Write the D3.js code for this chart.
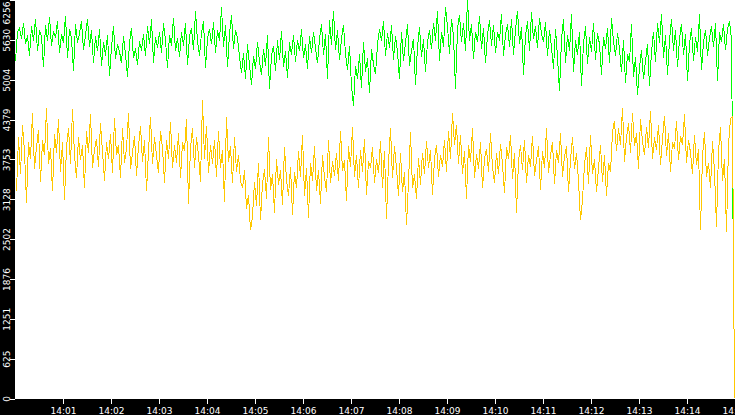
<!DOCTYPE html>
<html><head><meta charset="utf-8">
<script src="https://cdn.jsdelivr.net/npm/d3@7"></script>
<style>
html,body{margin:0;padding:0;background:#fff;overflow:hidden}
svg{display:block}
text{font-family:"DejaVu Sans",sans-serif;font-size:9px;fill:#fff}
</style>
</head><body>
<svg id="chart" width="735" height="415"></svg>
<script>
// ---- data ----
const startTime = "2024-01-01T14:00:00";
const sampleSeconds = 2.5;
const seriesNames = ["green", "yellow"];
const seriesColors = ["#00ff00", "#ffc800"];
const seriesOffsetSeconds = [0, 1.25];

const greenValues = [
5300,5750,5820,5640,5900,5560,5700,5380,5840,5620,5960,5450,5780,5690,5200,5870,5610,5990,5540,5760,
5660,5920,5430,5720,5580,6010,5340,5800,5650,5140,5880,5590,5730,5920,5470,5700,5960,5520,5780,5260,
5690,5450,5800,5220,5600,5380,5710,5060,5520,5840,5330,5560,5450,5260,5690,5410,5050,5580,5820,5340,
5500,5230,5610,5460,5720,5380,5840,5560,5950,5270,5680,5500,5760,5420,5890,5620,5190,5700,5540,5980,
5450,5660,5360,5750,5540,5900,5230,5680,5820,5470,6080,5600,5380,5740,5920,5190,5650,5800,5560,5910,
5430,5780,5620,6140,5520,5860,5200,5720,6020,5480,5790,5650,5370,5110,5420,5020,5560,5240,4920,5380,
5170,5600,5290,5080,5490,5220,5700,4860,5380,5540,5140,5620,5310,5770,5200,5460,5030,5590,5400,5710,
5280,5630,5450,5800,5340,5560,5180,5690,5420,5750,5510,5260,5640,5880,5390,5720,5020,5940,5550,6080,
5470,5780,5310,5650,5860,5420,5160,5540,4900,4600,5220,5010,5400,4880,5600,5130,5340,4790,5480,5250,
5090,5560,5800,5620,5920,5380,5740,5500,5860,5320,5690,5440,5010,5760,5300,5580,5880,5220,5460,5650,
4920,5520,5830,5360,5640,5130,5590,5780,5480,5900,5620,6080,5300,5760,5520,6150,5840,5410,5960,5680,
4860,5800,6020,5590,5900,5450,6256,5620,5880,5330,5760,5590,6010,5480,5820,5260,5700,5940,5540,5870,
5420,5760,5620,6040,5380,5710,5880,5520,5960,5400,5780,6090,5560,5830,5080,5700,5920,5460,6060,5640,
5850,5500,5980,5720,5600,5910,5380,5790,5510,5180,5800,5360,4820,5640,5950,5270,5700,5450,6030,5120,
5620,5390,5760,4900,5580,5840,5250,5670,5440,5900,5320,5740,5560,5080,5680,5480,5820,5260,5970,5600,
5380,5740,5490,5120,5630,4960,5410,5280,5880,5050,5360,4760,5190,5470,5010,5300,5560,4900,5440,5760,
5280,5900,5580,6040,5350,5700,5080,5620,5960,5460,5780,5200,5650,5880,5390,5720,4980,5560,5820,5300,
5680,5440,6030,5150,5600,5790,5380,5660,5840,5520,5900,4980,5750,5600,5880,5470,5800,5930,5640,1907
];

const yellowValues = [
3250,4100,3520,4300,3880,3070,4020,3760,4480,3600,3950,4210,3400,4050,3820,4560,3680,3930,3250,4150,
3860,4380,3560,4020,3120,3940,4250,3680,4540,3820,3460,4100,3740,3980,3300,4200,3850,4460,3620,3900,
4080,3640,4320,3880,3420,4020,3760,4150,3540,4400,3820,3980,3460,4240,3700,3920,4480,3600,3860,4120,
3500,3960,4280,3720,4050,3260,3880,4420,3680,4100,3820,3540,4200,3940,3380,4060,3760,4340,3620,3980,
3700,4160,3460,4020,3880,4380,3060,3940,4240,3620,4100,3820,3400,4680,3760,4280,3540,3980,3680,4060,
3480,4200,3620,3900,3080,4420,3720,3960,3380,4100,3560,3820,3420,3300,3580,2980,3200,2640,2860,3400,
3020,3700,2800,3380,3600,3140,4100,3280,3520,2920,3760,3360,3580,3040,3940,3440,3180,3640,2880,3560,
3300,3880,3480,4140,3180,3620,2840,3700,3420,3960,3260,3580,3060,3820,3480,3240,4060,3380,3720,3500,
3860,3420,4200,3580,3740,3100,3960,3640,4260,3480,3820,3300,3900,3560,4080,3200,3720,3620,3940,3380,
3760,3540,4040,3300,3880,2820,3700,4240,3460,3960,3620,3180,3860,3240,3560,2720,3400,4180,3300,3520,
3140,3780,3360,3860,3520,4040,3620,3900,3200,3760,3980,3480,3820,3640,4060,3560,4200,3760,4480,3980,
4300,3680,4140,3520,3880,3140,3980,3720,4240,3460,3840,3600,4020,3300,3760,3920,3560,4160,3640,3380,
3860,3520,4000,3680,3220,3940,3760,4140,3440,3860,2920,3720,3980,3580,4060,3380,3820,3640,4120,3500,
3740,3960,3280,3880,3620,4240,3540,3820,4020,3360,3900,3700,4160,3480,3800,3960,3240,3740,4100,3600,
3860,3420,2800,3120,3680,3940,3360,4140,3520,3760,3240,3620,3980,3400,3820,3180,3700,3560,4180,4360,
3880,4240,3980,4560,3720,4100,4320,3860,4480,3960,4160,3600,4380,4040,3820,4260,3940,4520,3760,4100,
3900,4300,3660,4080,4440,3800,4160,3560,4020,3920,4360,3740,4120,3980,4460,3700,4060,3860,3520,4140,
3660,3920,2640,3800,4180,3480,3700,3300,4040,3560,2700,3880,4260,3420,3760,2620,3980,4400,4420,0
];

const yMax = 6256;
const yTickValues = [0, 625.6, 1251.2, 1876.8, 2502.4, 3128, 3753.6, 4379.2, 5004.8, 5630.4, 6256];
const xTickLabels = ["14:01","14:02","14:03","14:04","14:05","14:06","14:07","14:08","14:09","14:10","14:11","14:12","14:13","14:14","14:15"];

// ---- layout ----
const W = 735, H = 415;
const left = 15, bottom = 398.5;

const svg = d3.select("#chart");
const t0 = new Date(startTime);
const t1 = new Date(t0.getTime() + 15 * 60000);

const x = d3.scaleTime().domain([t0, t1]).range([left, W]);
const y = d3.scaleLinear().domain([0, yMax]).range([bottom, 0]);

const series = [greenValues, yellowValues].map((vals, k) => ({
  name: seriesNames[k], color: seriesColors[k],
  points: vals.map((v, i) => ({t: new Date(t0.getTime() + (seriesOffsetSeconds[k] + i * sampleSeconds) * 1000), v}))
}));

// plot background
svg.append("rect").attr("x", 0).attr("y", 0).attr("width", W).attr("height", H).attr("fill", "#fff");

const line = d3.line()
  .x(d => Math.round(x(d.t)) + 0.5)
  .y(d => y(d.v));
svg.append("g").selectAll("path").data(series).join("path")
  .attr("d", d => line(d.points))
  .attr("fill", "none")
  .attr("stroke", d => d.color)
  .attr("stroke-width", 1)
  .attr("shape-rendering", "crispEdges");

// black axis strips
svg.append("rect").attr("x", 0).attr("y", 399).attr("width", W).attr("height", H - 399).attr("fill", "#000");
svg.append("rect").attr("x", 0).attr("y", 0).attr("width", left).attr("height", H).attr("fill", "#000");

// tick positions for the time axis
const parseHM = d3.timeParse("%Y-%m-%d %H:%M");
const dayStr = d3.timeFormat("%Y-%m-%d")(t0);
const xTickDates = xTickLabels.map(l => parseHM(dayStr + " " + l));

// y axis
const yAxis = d3.axisLeft(y).tickValues(yTickValues).tickFormat(d => Math.floor(d)).tickSize(5).tickPadding(0);
const gy = svg.append("g").attr("transform", `translate(${left},0)`).call(yAxis);
gy.select(".domain").remove();
gy.selectAll(".tick line").attr("stroke", "#fff").attr("shape-rendering", "crispEdges");
gy.selectAll(".tick text")
  .attr("transform", "rotate(-90)")
  .attr("x", d => d === yMax ? -1 : 0)
  .attr("y", -5.5).attr("dy", 0)
  .attr("text-anchor", d => d === yMax ? "end" : "middle")
  .attr("fill", "#fff")
  .style("font-family", "DejaVu Sans").style("font-size", "9px");

// x axis
const xAxis = d3.axisBottom(x).tickValues(xTickDates).tickFormat((d, i) => xTickLabels[i]).tickSize(5).tickPadding(3);
const gx = svg.append("g").attr("transform", "translate(0,399)").call(xAxis);
gx.select(".domain").remove();
gx.selectAll(".tick line").attr("stroke", "#fff").attr("shape-rendering", "crispEdges");
gx.selectAll(".tick text")
  .attr("y", 8.5)
  .attr("fill", "#fff")
  .style("font-family", "DejaVu Sans").style("font-size", "9px");
</script>
</body></html>
